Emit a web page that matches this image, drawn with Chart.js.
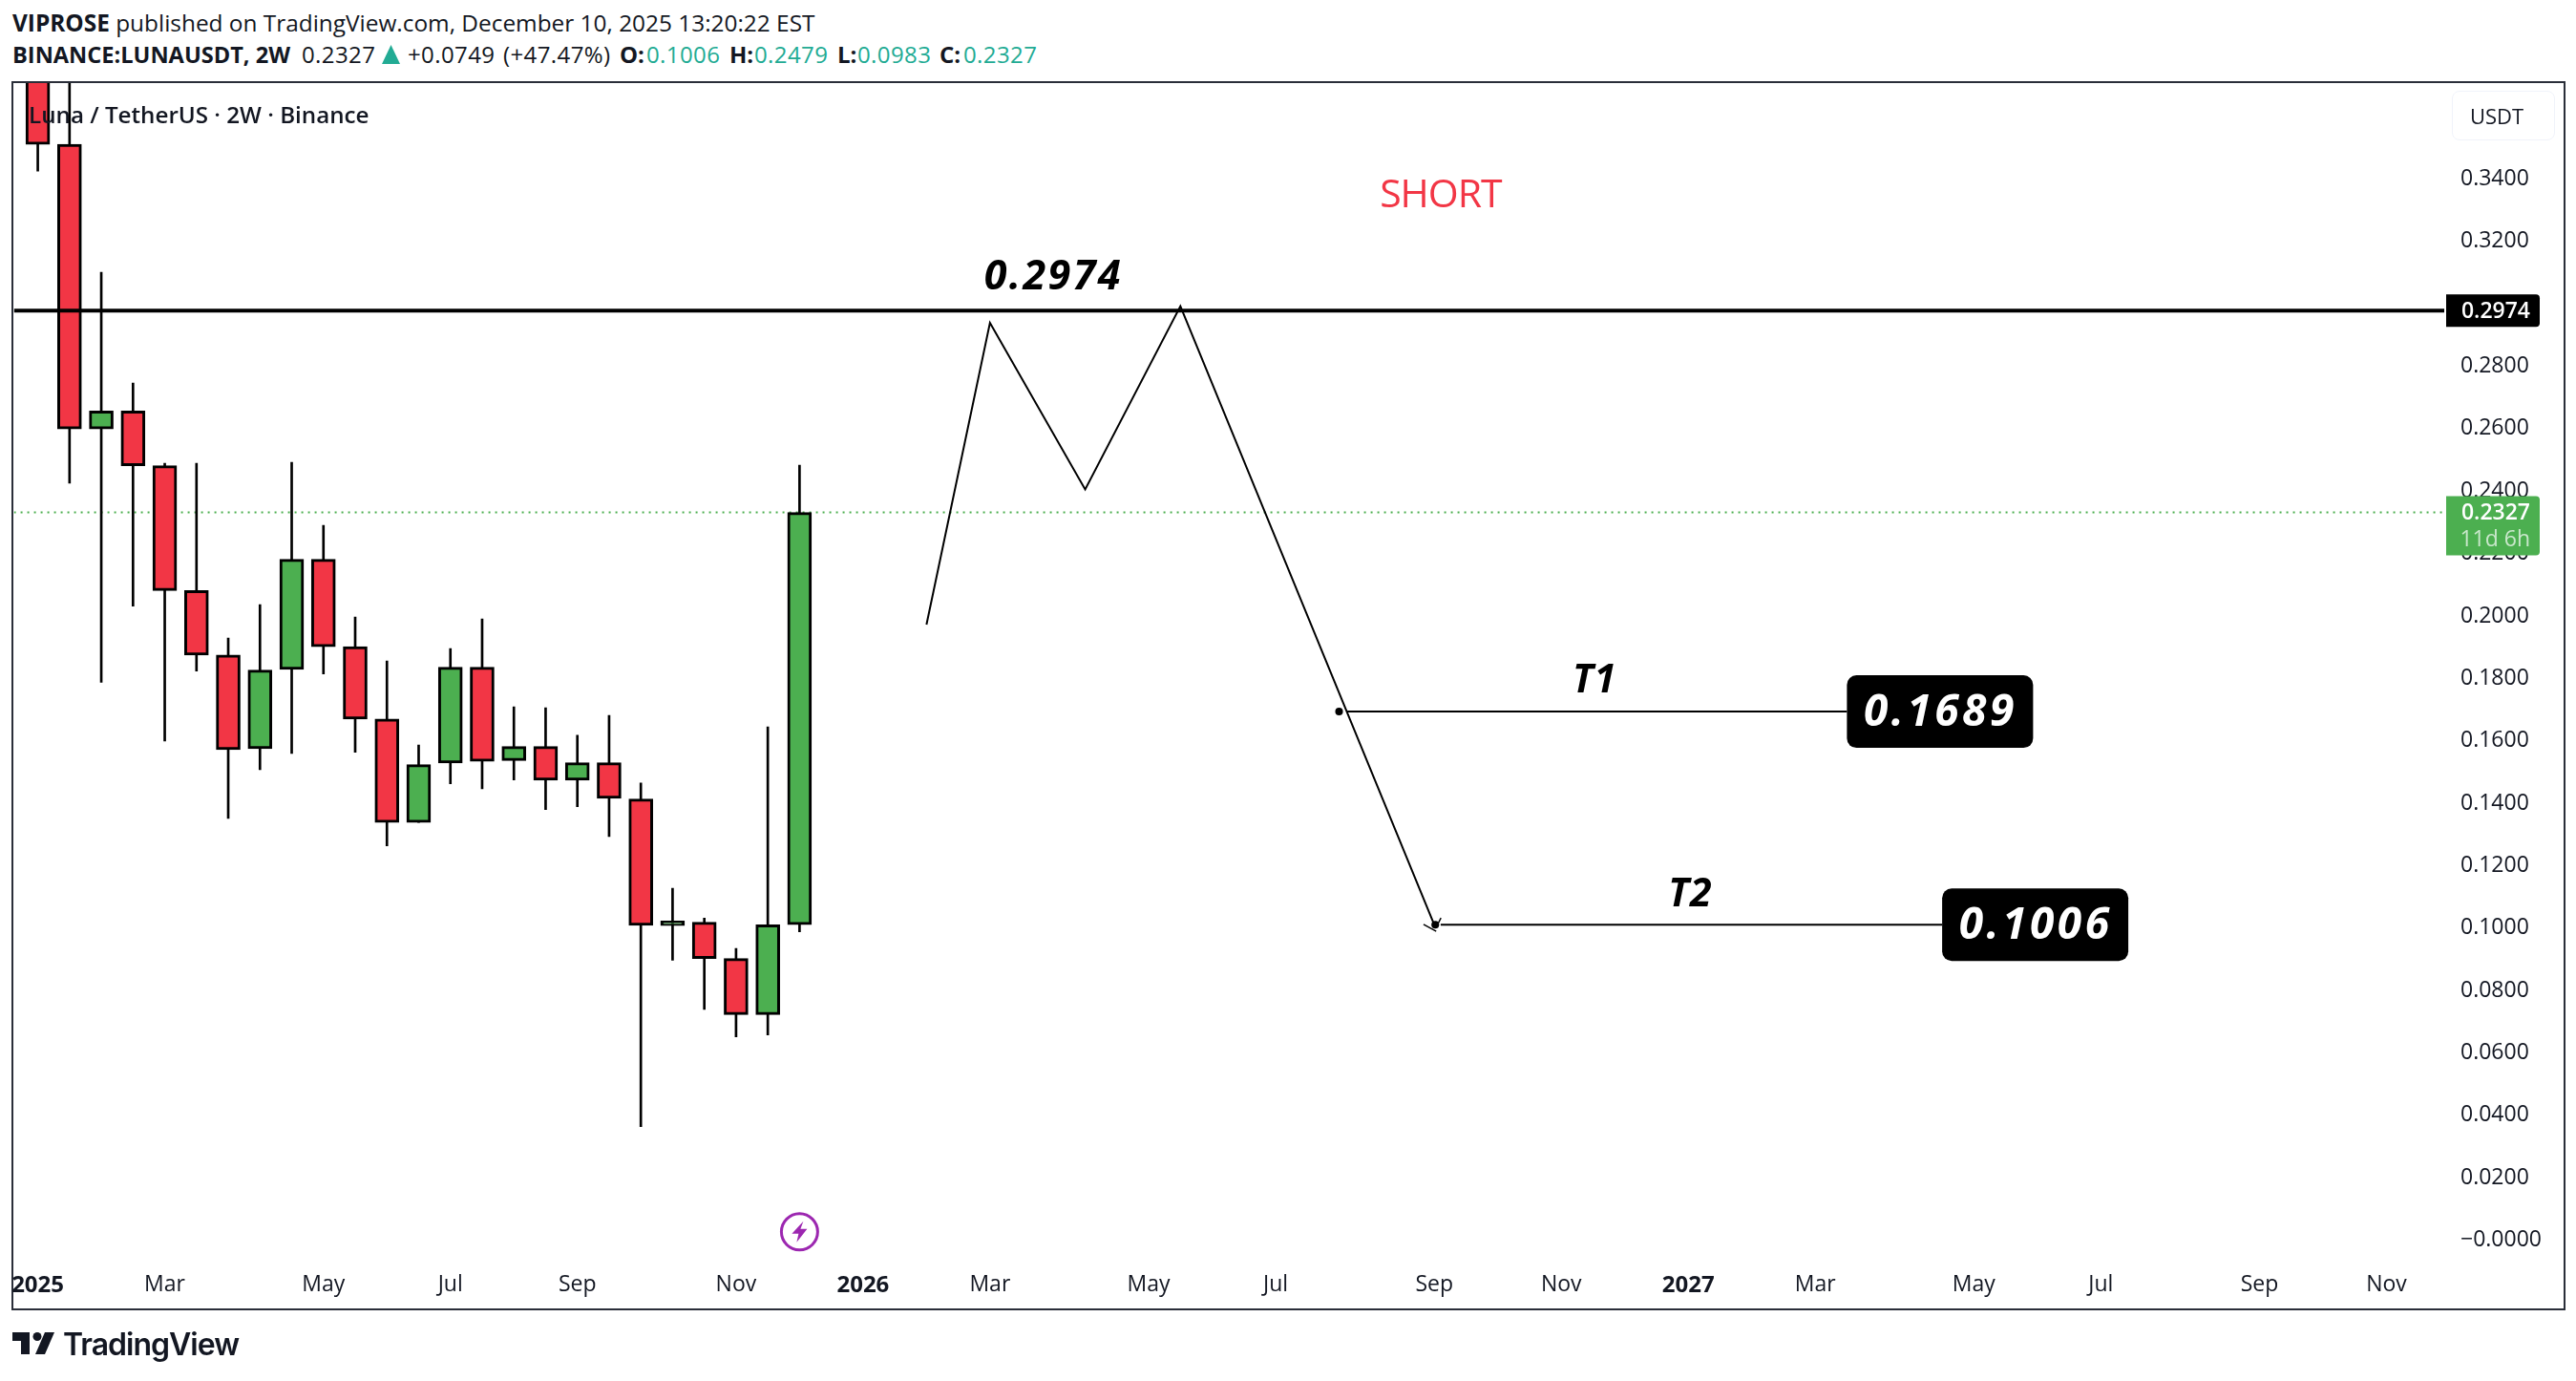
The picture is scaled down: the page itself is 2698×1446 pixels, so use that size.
<!DOCTYPE html>
<html>
<head>
<meta charset="utf-8">
<title>LUNAUSDT 2W</title>
<script src="https://cdn.jsdelivr.net/npm/chart.js@4"></script>
<style>
    html, body { margin: 0; padding: 0; background: #fff; }
    body { width: 2698px; height: 1446px; position: relative; overflow: hidden; font-family: "Open Sans", sans-serif; color: #131722; }
    .line { position: absolute; left: 13px; white-space: nowrap; font-size: 24.4px; line-height: 30px; }
    .line b { font-weight: 700; }
    #head1 { top: 9px; }
    .seg { position: absolute; top: 42px; white-space: nowrap; font-size: 24px; line-height: 30px; letter-spacing: 0.4px; }
    .seg.lbl { font-weight: 700; letter-spacing: 0; }
    .teal { color: #22ab94; }
    #upTri { position: absolute; left: 400px; top: 47px; }
    #frame { position: absolute; left: 12px; top: 85px; width: 2671px; height: 1283px; border: 2px solid #2a2e39; }
    #chartCanvas { position: absolute; left: 0; top: 0; }
    #pairTitle { position: absolute; left: 30px; top: 104px; font-size: 24.2px; line-height: 32px; font-weight: 600; white-space: nowrap; }
    #usdtBox { position: absolute; left: 2568px; top: 95px; width: 108px; height: 52px; box-sizing: border-box; border: 1px solid #f0f3fa; border-radius: 8px; }
    #usdtText { position: absolute; left: 2587px; top: 105px; font-size: 22px; line-height: 32px; }
    #logo { position: absolute; left: 13px; top: 1395px; }
    #logoText { position: absolute; left: 66px; top: 1386px; font-family: Inter, sans-serif; font-size: 32px; line-height: 44px; font-weight: 600; letter-spacing: -1px; white-space: nowrap; }
</style>
</head>
<body>
<div class="line" id="head1"><b>VIPROSE</b> published on TradingView.com, December 10, 2025 13:20:22 EST</div>
<span class="seg lbl" style="left:13px;font-size:23.6px">BINANCE:LUNAUSDT, 2W</span>
<span class="seg" style="left:316px">0.2327</span>
<svg id="upTri" width="19" height="20" viewBox="0 0 19 20"><path fill="#22ab94" d="M9.5 0L19 20H0Z"/></svg>
<span class="seg" style="left:427px">+0.0749</span>
<span class="seg" style="left:527px">(+47.47%)</span>
<span class="seg lbl" style="left:649px">O:</span>
<span class="seg teal" style="left:677px">0.1006</span>
<span class="seg lbl" style="left:764px">H:</span>
<span class="seg teal" style="left:790px">0.2479</span>
<span class="seg lbl" style="left:877px">L:</span>
<span class="seg teal" style="left:898px">0.0983</span>
<span class="seg lbl" style="left:984px">C:</span>
<span class="seg teal" style="left:1009px">0.2327</span>
<div id="frame"></div>
<canvas id="chartCanvas" width="2698" height="1446"></canvas>
<div id="pairTitle">Luna / TetherUS · 2W · Binance</div>
<div id="usdtBox"></div>
<div id="usdtText">USDT</div>
<svg id="logo" width="44" height="23" viewBox="0 0 44 23"><path fill="#131722" d="M0 0H18V23H9V9H0Z"/><circle fill="#131722" cx="26" cy="4.5" r="4.5"/><path fill="#131722" d="M44 0L34 23H24L34 0Z"/></svg>
<div id="logoText">TradingView</div>

<script>
// candles, one per 2 weeks, index = position on the time axis
const openVals  = [0.4200, 0.3507, 0.2595, 0.2652, 0.2477, 0.2077, 0.1870, 0.1570, 0.1824, 0.2177, 0.1897, 0.1665, 0.1334, 0.1524, 0.1831, 0.1532, 0.1577, 0.1469, 0.1525, 0.1409, 0.1003, 0.1014, 0.0898, 0.0718, 0.1006];
const highVals  = [0.4600, 0.4000, 0.3097, 0.2742, 0.2485, 0.2485, 0.1925, 0.2032, 0.2488, 0.2286, 0.1992, 0.1851, 0.1582, 0.1891, 0.1986, 0.1704, 0.1701, 0.1613, 0.1677, 0.1460, 0.1123, 0.1027, 0.0930, 0.1640, 0.2479];
const lowVals   = [0.3421, 0.2421, 0.1783, 0.2027, 0.1595, 0.1819, 0.1347, 0.1503, 0.1555, 0.1810, 0.1559, 0.1259, 0.1334, 0.1458, 0.1442, 0.1470, 0.1375, 0.1384, 0.1289, 0.0359, 0.0892, 0.0735, 0.0647, 0.0653, 0.0983];
const closeVals = [0.3507, 0.2595, 0.2652, 0.2477, 0.2077, 0.1870, 0.1567, 0.1822, 0.2177, 0.1897, 0.1665, 0.1334, 0.1519, 0.1831, 0.1530, 0.1577, 0.1469, 0.1525, 0.1411, 0.1004, 0.1018, 0.0898, 0.0718, 0.1006, 0.2327];

const timeTickIdx = [0, 4, 9, 13, 17, 22, 26, 30, 35, 39, 44, 48, 52, 56, 61, 65, 70, 74];
const timeTickLabels = ['2025', 'Mar', 'May', 'Jul', 'Sep', 'Nov', '2026', 'Mar', 'May', 'Jul', 'Sep', 'Nov', '2027', 'Mar', 'May', 'Jul', 'Sep', 'Nov'];
const priceTicks = [0.34, 0.32, 0.30, 0.28, 0.26, 0.24, 0.22, 0.20, 0.18, 0.16, 0.14, 0.12, 0.10, 0.08, 0.06, 0.04, 0.02, 0];
const priceTickLabels = ['0.3400', '0.3200', '', '0.2800', '0.2600', '0.2400', '0.2200', '0.2000', '0.1800', '0.1600', '0.1400', '0.1200', '0.1000', '0.0800', '0.0600', '0.0400', '0.0200', '−0.0000'];

// drawn pattern and levels
const entryLevel = 0.2974;
const lastPrice = 0.2327;
const target1 = 0.1689;
const target2 = 0.1006;
const pathIdx = [28, 30, 33, 36, 44];
const pathVals = [0.1968, 0.2935, 0.2401, 0.2988, 0.1006];

const axisMinX = -0.752;
const axisMaxX = 75.82;
const axisMinY = -0.00704;
const axisMaxY = 0.3703;

const RED = '#f23645';
const GREEN = '#4caf50';
const INK = '#131722';

const xy = (xs, ys) => xs.map((x, i) => ({ x: x, y: ys[i] }));
const candleColors = openVals.map((o, i) => (closeVals[i] >= o ? GREEN : RED));

const notes = [
    { text: '0.2974', x: 32, y: 0.3042, font: 'italic 700 43px "Open Sans"', color: '#000', spacing: '2.4px' },
    { text: 'SHORT', x: 44.2, y: 0.3305, font: '400 41px "Open Sans"', color: RED, spacing: '-1px' },
    { text: 'T1', x: 49.05, y: 0.1751, font: 'italic 700 41px "Open Sans"', color: '#000', spacing: '1px' },
    { text: 'T2', x: 52.07, y: 0.1065, font: 'italic 700 41px "Open Sans"', color: '#000', spacing: '1px' }
];

const overlayPlugin = {
    id: 'overlay',
    afterDraw(chart) {
        const ctx = chart.ctx;
        const xs = chart.scales.x;
        const ys = chart.scales.y;

        ctx.save();
        ctx.textAlign = 'center';
        ctx.textBaseline = 'alphabetic';
        notes.forEach((n) => {
            ctx.font = n.font;
            ctx.fillStyle = n.color;
            ctx.letterSpacing = n.spacing;
            ctx.fillText(n.text, xs.getPixelForValue(n.x), ys.getPixelForValue(n.y));
        });
        ctx.letterSpacing = '0px';

        // target boxes hang off the right end of their lines
        [[57, target1, '0.1689'], [60, target2, '0.1006']].forEach(([idx, val, label]) => {
            const left = xs.getPixelForValue(idx);
            const mid = ys.getPixelForValue(val);
            ctx.fillStyle = '#000';
            ctx.beginPath();
            ctx.roundRect(left, mid - 38, 195, 76, 10);
            ctx.fill();
            ctx.fillStyle = '#fff';
            ctx.font = 'italic 700 46px "Open Sans"';
            ctx.letterSpacing = '3.5px';
            ctx.textBaseline = 'middle';
            ctx.fillText(label, left + 98, mid + 2);
            ctx.letterSpacing = '0px';
            ctx.textBaseline = 'alphabetic';
        });

        // price tags on the axis
        const tagLeft = chart.chartArea.right + 2;
        const entryY = ys.getPixelForValue(entryLevel);
        ctx.fillStyle = '#000';
        ctx.beginPath();
        ctx.roundRect(tagLeft, entryY - 17, 98, 34, [0, 4, 4, 0]);
        ctx.fill();
        ctx.fillStyle = '#fff';
        ctx.font = '600 23px "Open Sans"';
        ctx.textAlign = 'right';
        ctx.textBaseline = 'middle';
        ctx.fillText('0.2974', tagLeft + 88, entryY + 1);

        const lastY = ys.getPixelForValue(lastPrice);
        ctx.fillStyle = GREEN;
        ctx.beginPath();
        ctx.roundRect(tagLeft, lastY - 17, 98, 62, [0, 4, 4, 0]);
        ctx.fill();
        ctx.fillStyle = '#fff';
        ctx.fillText('0.2327', tagLeft + 88, lastY + 1);
        ctx.fillStyle = 'rgba(255,255,255,0.7)';
        ctx.font = '400 23px "Open Sans"';
        ctx.fillText('11d 6h', tagLeft + 88, lastY + 29);

        // lightning marker under the last candle
        const cx = xs.getPixelForValue(24);
        const cy = ys.getPixelForValue(0.0022);
        ctx.strokeStyle = '#9c27b0';
        ctx.lineWidth = 3;
        ctx.beginPath();
        ctx.arc(cx, cy, 19, 0, Math.PI * 2);
        ctx.stroke();
        ctx.fillStyle = '#9c27b0';
        ctx.beginPath();
        ctx.moveTo(cx + 4, cy - 11);
        ctx.lineTo(cx - 8, cy + 2);
        ctx.lineTo(cx - 1, cy + 2);
        ctx.lineTo(cx - 3, cy + 11);
        ctx.lineTo(cx + 8, cy - 3);
        ctx.lineTo(cx + 1, cy - 3);
        ctx.closePath();
        ctx.fill();
        ctx.restore();
    }
};

new Chart(document.getElementById('chartCanvas'), {
    type: 'bar',
    plugins: [overlayPlugin],
    data: {
        datasets: [
            {
                // bodies, on top of the wicks
                data: openVals.map((o, i) => ({ x: i, y: [o, closeVals[i]] })),
                backgroundColor: candleColors,
                borderColor: '#000',
                borderWidth: 3,
                borderSkipped: false,
                barThickness: 25,
                grouped: false,
                order: 2
            },
            {
                // wicks
                data: lowVals.map((l, i) => ({ x: i, y: [l, highVals[i]] })),
                backgroundColor: '#000',
                borderWidth: 0,
                barThickness: 2,
                grouped: false,
                order: 3
            },
            {
                type: 'line',
                data: xy([axisMinX, axisMaxX], [lastPrice, lastPrice]),
                borderColor: GREEN,
                borderWidth: 2,
                borderDash: [2, 5],
                pointRadius: 0,
                order: 4
            },
            {
                type: 'line',
                data: xy([axisMinX, axisMaxX], [entryLevel, entryLevel]),
                borderColor: '#000',
                borderWidth: 4,
                pointRadius: 0,
                order: 1
            },
            {
                type: 'line',
                data: xy(pathIdx, pathVals),
                borderColor: '#000',
                borderWidth: 2,
                tension: 0,
                pointRadius: 0,
                order: 1
            },
            {
                type: 'line',
                data: xy([41.25, 57], [target1, target1]),
                borderColor: '#000',
                borderWidth: 2,
                pointRadius: 0,
                order: 1
            },
            {
                type: 'line',
                data: xy([44.2, 60], [target2, target2]),
                borderColor: '#000',
                borderWidth: 2,
                pointRadius: 0,
                order: 1
            },
            {
                // arrow tip left on the end of the path
                type: 'line',
                data: xy([43.66, 44.06, 44.08, 44.12, 44.21], [0.1007, 0.0985, null, 0.1010, 0.1028]),
                borderColor: '#000',
                borderWidth: 1.5,
                pointRadius: 0,
                spanGaps: false,
                order: 1
            },
            {
                // anchor dots of the target lines
                type: 'scatter',
                data: xy([41, 44.03], [target1, target2]),
                backgroundColor: '#000',
                pointRadius: 4,
                order: 1
            }
        ]
    },
    options: {
        responsive: false,
        animation: false,
        devicePixelRatio: 1,
        layout: { padding: { left: 14, top: 87, right: 12, bottom: 75 } },
        plugins: {
            legend: { display: false },
            title: { display: false },
            tooltip: { enabled: false }
        },
        scales: {
            x: {
                type: 'linear',
                offset: false,
                min: axisMinX,
                max: axisMaxX,
                grid: { display: false, drawTicks: false, offset: false },
                border: { display: false },
                afterBuildTicks: (scale) => { scale.ticks = timeTickIdx.map((v) => ({ value: v })); },
                afterFit: (scale) => { scale.height = 51; },
                ticks: {
                    autoSkip: false,
                    maxRotation: 0,
                    padding: 12,
                    color: INK,
                    font: (ctx) => ({
                        family: '"Open Sans"',
                        size: /^\d/.test(timeTickLabels[ctx.index] || '') ? 24 : 23,
                        weight: /^\d/.test(timeTickLabels[ctx.index] || '') ? '700' : '400'
                    }),
                    callback: (value, index) => timeTickLabels[index]
                }
            },
            y: {
                type: 'linear',
                position: 'right',
                min: axisMinY,
                max: axisMaxY,
                grid: { display: false, drawTicks: false },
                border: { display: false },
                afterBuildTicks: (scale) => { scale.ticks = priceTicks.map((v) => ({ value: v })); },
                afterFit: (scale) => { scale.width = 126; },
                ticks: {
                    autoSkip: false,
                    padding: 17,
                    labelOffset: 1.5,
                    color: INK,
                    font: { family: '"Open Sans"', size: 23 },
                    callback: (value, index) => priceTickLabels[index]
                }
            }
        }
    }
});
</script>
</body>
</html>
